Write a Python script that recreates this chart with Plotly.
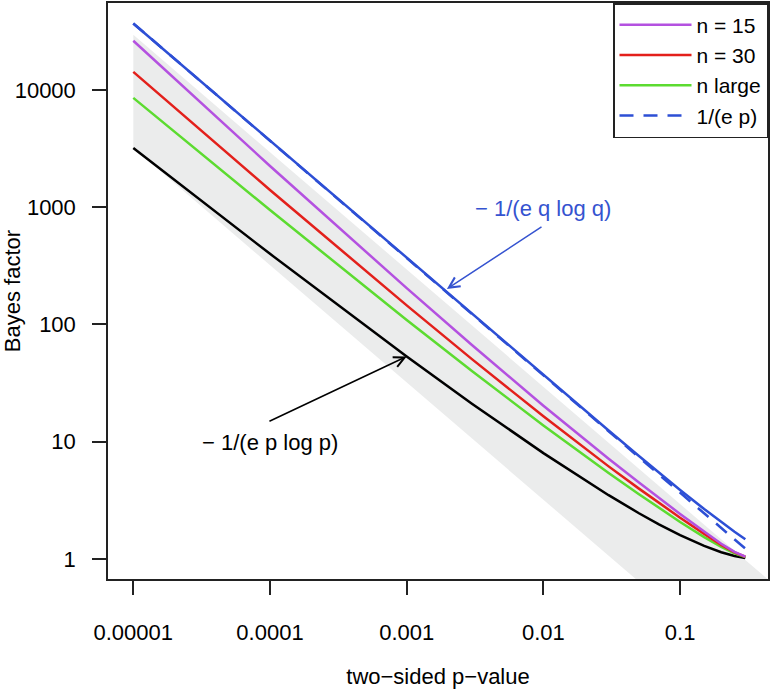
import plotly.graph_objects as go

# two-sided p-values at which the curves were read
p_values = [1e-5, 1e-4, 1e-3, 3e-3, 0.01, 0.02, 0.03, 0.05, 0.07, 0.1, 0.15, 0.2, 0.25, 0.3]

bf_n15 = [26200, 2242, 203.6, 66.7, 20.28, 10.44, 7.15, 4.49, 3.32, 2.42, 1.713, 1.350, 1.152, 1.047]
bf_n30 = [14220, 1400, 145.2, 50.6, 16.45, 8.80, 6.16, 3.98, 3.01, 2.25, 1.638, 1.318, 1.141, 1.045]
bf_nlarge = [8533, 943, 109.1, 40.05, 13.76, 7.59, 5.41, 3.57, 2.73, 2.07, 1.537, 1.269, 1.118, 1.038]
bf_inv_ep = [36788, 3679, 367.9, 122.6, 36.79, 18.39, 12.26, 7.358, 5.255, 3.679, 2.453, 1.839, 1.472, 1.226]
bf_upper_q = [36788, 3679, 368.1, 122.8, 36.97, 18.58, 12.45, 7.549, 5.451, 3.880, 2.663, 2.061, 1.705, 1.473]
bf_lower_p = [3196, 399.4, 53.26, 21.11, 7.99, 4.70, 3.50, 2.456, 1.976, 1.598, 1.293, 1.143, 1.0615, 1.0185]

# grey band (outline vertices, p and Bayes factor)
band_p = [1e-5, 1.0, 1.0, 1e-5]
band_bf = [29400, 0.294, 0.032, 3200]

x_tickvals = [1e-5, 1e-4, 1e-3, 1e-2, 1e-1]
x_ticktext = ["0.00001", "0.0001", "0.001", "0.01", "0.1"]
y_tickvals = [1, 10, 100, 1000, 10000]
y_ticktext = ["1", "10", "100", "1000", "10000"]

# annotation anchors in (log10 p, log10 BF)
ann_q_text = (-2.0, 2.992)
ann_q_tail = (-2.003, 2.839)
ann_q_head = (-2.706, 2.302)
ann_p_text = (-4.0, 0.997)
ann_p_tail = (-4.015, 1.168)
ann_p_head = (-3.0, 1.7265)

FONT = "Liberation Sans, Arial, Helvetica, sans-serif"
PURPLE = "#B451E0"
RED = "#E3201B"
GREEN = "#5CDB30"
BLUE = "#2D4FD5"

fig = go.Figure()
fig.add_trace(go.Scatter(x=band_p, y=band_bf, mode="lines", fill="toself",
                         fillcolor="#EBECEC", line=dict(width=0, color="#EBECEC"),
                         showlegend=False, hoverinfo="skip"))
fig.add_trace(go.Scatter(x=p_values, y=bf_lower_p, mode="lines",
                         line=dict(color="black", width=2.5), showlegend=False))
fig.add_trace(go.Scatter(x=p_values, y=bf_nlarge, mode="lines",
                         line=dict(color=GREEN, width=2.5), name="n large", legendrank=3))
fig.add_trace(go.Scatter(x=p_values, y=bf_n30, mode="lines",
                         line=dict(color=RED, width=2.5), name="n = 30", legendrank=2))
fig.add_trace(go.Scatter(x=p_values, y=bf_n15, mode="lines",
                         line=dict(color=PURPLE, width=2.5), name="n = 15", legendrank=1))
fig.add_trace(go.Scatter(x=p_values, y=bf_inv_ep, mode="lines",
                         line=dict(color=BLUE, width=2.5, dash="14px,10px"), name="1/(e p)",
                         legendrank=4))
fig.add_trace(go.Scatter(x=p_values, y=bf_upper_q, mode="lines",
                         line=dict(color=BLUE, width=2.5), showlegend=False))

fig.add_annotation(x=ann_q_text[0], y=ann_q_text[1], xref="x", yref="y",
                   text="\u2212 1/(e q log q)", showarrow=False,
                   font=dict(family=FONT, size=22, color="#3553D0"))
fig.add_annotation(x=ann_q_head[0], y=ann_q_head[1], xref="x", yref="y",
                   ax=ann_q_tail[0], ay=ann_q_tail[1], axref="x", ayref="y",
                   text="", showarrow=True, arrowhead=5, arrowsize=1.4,
                   arrowwidth=1.5, arrowcolor="#3553D0", standoff=0, startstandoff=0)
fig.add_annotation(x=ann_p_text[0], y=ann_p_text[1], xref="x", yref="y",
                   text="\u2212 1/(e p log p)", showarrow=False,
                   font=dict(family=FONT, size=22, color="black"))
fig.add_annotation(x=ann_p_head[0], y=ann_p_head[1], xref="x", yref="y",
                   ax=ann_p_tail[0], ay=ann_p_tail[1], axref="x", ayref="y",
                   text="", showarrow=True, arrowhead=5, arrowsize=1.4,
                   arrowwidth=1.5, arrowcolor="black", standoff=0, startstandoff=0)

axis_common = dict(showline=True, linecolor="#222", linewidth=1.5, mirror=True,
                   ticks="outside", ticklen=14, tickwidth=1.5, tickcolor="#222",
                   showgrid=False, zeroline=False, automargin=False,
                   tickfont=dict(family=FONT, size=22, color="black"))

fig.update_xaxes(type="log", range=[-5.185, -0.357], tickmode="array",
                 tickvals=x_tickvals, ticktext=x_ticktext, ticklabelstandoff=19,
                 title=dict(text="two\u2212sided p\u2212value", standoff=24,
                            font=dict(family=FONT, size=22, color="black")),
                 **axis_common)
fig.update_yaxes(type="log", range=[-0.1705, 4.740], tickmode="array",
                 tickvals=y_tickvals, ticktext=y_ticktext, ticklabelstandoff=12,
                 title=dict(text="Bayes factor", standoff=0,
                            font=dict(family=FONT, size=22, color="black")),
                 **axis_common)

fig.update_layout(
    width=770, height=693,
    margin=dict(l=108, r=2, t=3, b=114, autoexpand=False),
    plot_bgcolor="white", paper_bgcolor="white",
    font=dict(family=FONT, size=22, color="black"),
    legend=dict(x=1, y=1, xanchor="right", yanchor="top",
                bordercolor="#222", borderwidth=1.5, bgcolor="white",
                font=dict(family=FONT, size=21, color="black"),
                tracegroupgap=0, itemwidth=72),
    showlegend=True,
)

fig.write_html("out.html", post_script="document.body.style.margin='0';",
               config={"displayModeBar": False})
